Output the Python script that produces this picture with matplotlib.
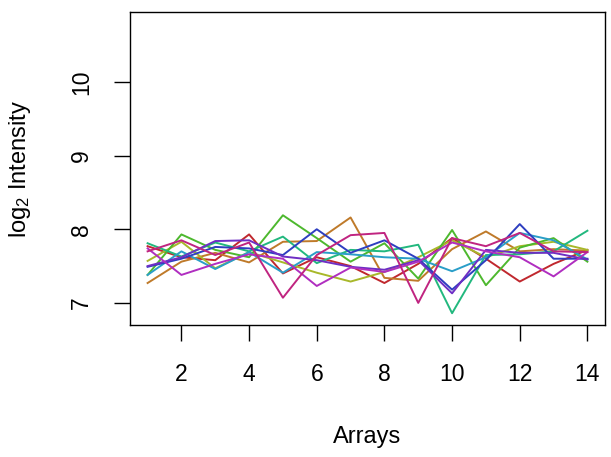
import matplotlib
matplotlib.use("Agg")
import matplotlib.pyplot as plt
import numpy as np

plt.rcParams['font.family'] = ['Liberation Sans', 'DejaVu Sans']
plt.rcParams['mathtext.fontset'] = 'custom'
plt.rcParams['mathtext.rm'] = 'Liberation Sans'
plt.rcParams['mathtext.it'] = 'Liberation Sans'

arrays = list(range(1, 15))
red     = [7.77, 7.62, 7.58, 7.93, 7.40, 7.62, 7.50, 7.27, 7.53, 7.88, 7.60, 7.29, 7.53, 7.72]
orange  = [7.27, 7.56, 7.68, 7.55, 7.83, 7.84, 8.16, 7.34, 7.30, 7.73, 7.97, 7.70, 7.73, 7.71]
olive   = [7.57, 7.83, 7.47, 7.69, 7.55, 7.41, 7.29, 7.42, 7.62, 7.85, 7.62, 7.77, 7.83, 7.72]
green   = [7.38, 7.93, 7.72, 7.62, 8.19, 7.88, 7.56, 7.81, 7.33, 7.99, 7.24, 7.75, 7.88, 7.56]
teal    = [7.81, 7.63, 7.82, 7.70, 7.90, 7.54, 7.72, 7.70, 7.79, 6.86, 7.65, 7.66, 7.70, 7.98]
cyan    = [7.38, 7.70, 7.46, 7.69, 7.41, 7.69, 7.66, 7.62, 7.60, 7.43, 7.62, 7.95, 7.85, 7.59]
blue    = [7.49, 7.60, 7.76, 7.74, 7.65, 8.00, 7.68, 7.85, 7.60, 7.18, 7.58, 8.07, 7.60, 7.60]
purple  = [7.50, 7.62, 7.84, 7.85, 7.63, 7.58, 7.49, 7.45, 7.58, 7.13, 7.72, 7.68, 7.68, 7.59]
magenta = [7.74, 7.38, 7.53, 7.66, 7.60, 7.23, 7.48, 7.42, 7.56, 7.82, 7.70, 7.62, 7.36, 7.69]
pink    = [7.70, 7.85, 7.65, 7.82, 7.07, 7.65, 7.92, 7.95, 7.00, 7.88, 7.77, 7.95, 7.70, 7.69]

series = [red, orange, olive, green, teal, cyan, blue, purple, magenta, pink]
colors = ["#C0282E", "#BF7A2A", "#A8B82A", "#4DB82E", "#22B87E",
          "#2A9EC8", "#2E3EC0", "#6E2EC4", "#B02EC0", "#C02480"]

fig = plt.figure(figsize=(6.11, 4.57), dpi=100)
ax = fig.add_axes([130/611, 132/457, 475/611, 313/457])
for s, c in zip(series, colors):
    ax.plot(arrays, s, color=c, lw=1.4)

ax.set_xlim(0.48, 14.52)
ax.set_ylim(6.70, 10.95)
ax.set_xticks([2, 4, 6, 8, 10, 12, 14])
ax.set_yticks([7, 8, 9, 10])
ax.tick_params(direction="out", length=11.5, width=1, labelsize=16.5)
ax.tick_params(axis='x', pad=16)
ax.tick_params(axis='y', pad=15)
for lab in ax.get_yticklabels():
    lab.set_rotation(90)
    lab.set_va("center")
for sp in ax.spines.values():
    sp.set_linewidth(1)
ax.set_xlabel("Arrays", fontsize=17)
ax.set_ylabel("log$_2$ Intensity", fontsize=17)
ax.xaxis.set_label_coords(0.5, (325 - 426) / 313)
ax.yaxis.set_label_coords((33 - 130) / 475, 0.5)
ax.xaxis.label.set_va('top')
fig.savefig("out.png", dpi=100)
